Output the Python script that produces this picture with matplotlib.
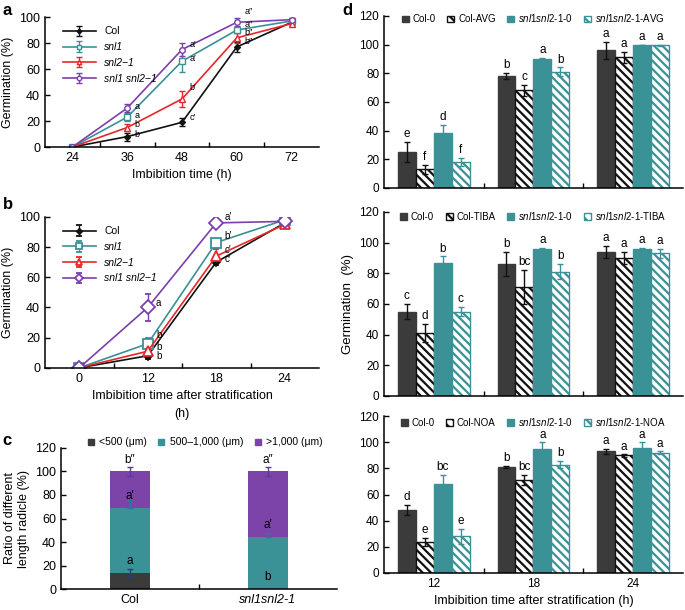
import matplotlib
matplotlib.use("Agg")
import matplotlib.pyplot as plt
import numpy as np
from matplotlib.patches import Patch
from matplotlib.lines import Line2D

plt.rcParams['font.family'] = ['Liberation Sans', 'DejaVu Sans']
plt.rcParams['mathtext.fontset'] = 'custom'
plt.rcParams['mathtext.it'] = 'Liberation Sans:italic'
plt.rcParams['mathtext.rm'] = 'Liberation Sans'
plt.rcParams['hatch.linewidth'] = 1.6

BLACK = '#111111'
TEAL = '#3a9196'
RED = '#e8262a'
PURPLE = '#7b3fae'
DARK = '#3b3b3b'
CPURP = '#7c44a8'

# ---------------- Panel a data ----------------
a_times = ['24', '36', '48', '60', '72']
a_series = ['Col', 'snl1', 'snl2\u22121', 'snl1 snl2\u22121']
a_col = [0, 8, 19, 77, 96]
a_col_err = [0, 3, 3, 4, 1]
a_snl1 = [0, 23, 66, 90, 97]
a_snl1_err = [0, 3, 8, 2, 1]
a_snl2 = [0, 15, 37, 84, 95]
a_snl2_err = [0, 3, 6, 4, 1]
a_dbl = [0, 30, 75, 96, 98]
a_dbl_err = [0, 3, 5, 3, 1]
a_letters = [["b", "c\u2032", "b\u2033"], ["a", "a\u2032", "a\u2033"],
             ["b", "b\u2032", "b\u2033"], ["a", "a\u2032", "a\u2033"]]
a_letter_y = [[10, 23, 81], [24, 68, 94.5], [17, 46, 88], [31, 79, 104]]

# ---------------- Panel b data ----------------
b_times = ['0', '12', '18', '24']
b_col = [0, 8, 70, 96]
b_col_err = [0, 2, 2, 1]
b_snl1 = [0, 16, 83, 98]
b_snl1_err = [0, 4, 2, 1]
b_snl2 = [0, 11, 74, 95]
b_snl2_err = [0, 2, 5, 1]
b_dbl = [0, 40, 96, 97]
b_dbl_err = [0, 9, 1, 1]
b_letters = [["b", "c\u2032"], ["b", "b\u2032"], ["b", "c\u2032"], ["a", "a\u2032"]]
b_letter_y = [[8, 72], [22, 87], [14, 78], [43, 100]]

# ---------------- Panel c data ----------------
c_groups = ['Col', 'snl1snl2-1']
c_lt500 = [14, 0]
c_lt500_err = [3, 0]
c_mid = [55, 44]
c_mid_err = [7, 4]
c_gt1000 = [31, 56]
c_gt1000_err = [4, 4]
c_labels_lt = ["a", "b"]
c_labels_mid = ["a\u2032", "a\u2032"]
c_labels_gt = ["b\u2033", "a\u2033"]

# ---------------- Panel d data ----------------
d_times = ['12', '18', '24']
d_treat = ['AVG', 'TIBA', 'NOA']
d_col0 = [[25, 78, 96], [55, 86, 94], [48, 81, 93]]
d_col0_err = [[7, 2, 6], [5, 8, 4], [4, 1, 2]]
d_colT = [[13, 68, 91], [41, 71, 90], [24, 71, 90]]
d_colT_err = [[3, 4, 4], [6, 11, 4], [3, 4, 1]]
d_snl0 = [[38, 90, 100], [87, 96, 96], [68, 95, 96]]
d_snl0_err = [[6, 0.5, 0], [4, 0.5, 0.5], [7, 5, 4]]
d_snlT = [[18, 81, 99.5], [55, 81, 93], [28, 83, 92]]
d_snlT_err = [[3, 3, 0.5], [3, 5, 3], [6, 3, 1]]
d_letters = [
    [["e", "f", "d", "f"], ["b", "c", "a", "b"], ["a", "a", "a", "a"]],
    [["c", "d", "b", "c"], ["b", "bc", "a", "b"], ["a", "a", "a", "a"]],
    [["d", "e", "bc", "e"], ["b", "bc", "a", "b"], ["a", "a", "a", "a"]],
]

fig = plt.figure(figsize=(6.85, 6.10), dpi=100)

def style_axes(ax, fs=9):
    ax.spines['top'].set_visible(False)
    ax.spines['right'].set_visible(False)
    ax.tick_params(direction='in', labelsize=fs, length=3.5, width=1)
    for s in ['left', 'bottom']:
        ax.spines[s].set_linewidth(1.1)

# ---------------- Panel a ----------------
axa = fig.add_axes([0.0657, 0.759, 0.400, 0.213])
xa = np.arange(len(a_times))
series_a = [(a_col, a_col_err, BLACK, 'D', BLACK, 3.0),
            (a_snl1, a_snl1_err, TEAL, 's', 'white', 4.0),
            (a_snl2, a_snl2_err, RED, '^', 'white', 4.0),
            (a_dbl, a_dbl_err, PURPLE, 'o', 'white', 4.0)]
for i, (vals, errs, c, m, mfc, ms) in enumerate(series_a):
    axa.errorbar(xa, vals, yerr=errs, color=c, marker=m, mfc=mfc, mec=c, ms=ms,
                 lw=1.2, capsize=2.5, elinewidth=1, label=a_series[i])
    for j in range(3):
        axa.text(xa[j + 1] + 0.14, a_letter_y[i][j], a_letters[i][j], fontsize=6.5,
                 va='center', ha='left')
axa.set_xlim(-0.5, len(a_times) - 0.5)
axa.set_ylim(0, 100)
axa.set_yticks(range(0, 101, 20))
axa.set_xticks(xa)
axa.set_xticklabels(a_times)
axa.set_xticks(np.arange(0.5, len(a_times) - 1, 1), minor=True)
style_axes(axa)
axa.tick_params(axis='x', which='major', length=0)
axa.tick_params(axis='x', which='minor', direction='in', length=3.5, width=1)
axa.set_ylabel('Germination (%)', fontsize=9)
axa.set_xlabel('Imbibition time (h)', fontsize=9)
leg = axa.legend(loc='upper left', frameon=False, fontsize=7.5, handlelength=3.2,
                 bbox_to_anchor=(0.03, 1.0), labelspacing=0.55, markerscale=0.8)
for t in leg.get_texts()[1:]:
    t.set_style('italic')

# ---------------- Panel b ----------------
axb = fig.add_axes([0.0657, 0.397, 0.400, 0.2475])
xb = np.arange(len(b_times))
series_b = [(b_col, b_col_err, BLACK, 'D', BLACK, 4.5),
            (b_snl1, b_snl1_err, TEAL, 's', 'white', 7.0),
            (b_snl2, b_snl2_err, RED, '^', 'white', 7.0),
            (b_dbl, b_dbl_err, PURPLE, 'D', 'white', 7.0)]
for i, (vals, errs, c, m, mfc, ms) in enumerate(series_b):
    axb.errorbar(xb, vals, yerr=errs, color=c, marker=m, mfc=mfc, mec=c, ms=ms,
                 mew=1.3, lw=1.2, capsize=2.5, elinewidth=1, label=a_series[i])
    for j in range(2):
        axb.text(xb[j + 1] + 0.12, b_letter_y[i][j], b_letters[i][j], fontsize=7,
                 va='center', ha='left')
axb.set_xlim(-0.5, len(b_times) - 0.5)
axb.set_ylim(0, 100)
axb.set_yticks(range(0, 101, 20))
axb.set_xticks(xb)
axb.set_xticklabels(b_times)
axb.set_xticks(np.arange(0.5, len(b_times) - 1, 1), minor=True)
style_axes(axb)
axb.tick_params(axis='x', which='major', length=0)
axb.tick_params(axis='x', which='minor', direction='in', length=3.5, width=1)
axb.set_ylabel('Germination (%)', fontsize=9)
axb.set_xlabel('Imbibition time after stratification\n(h)', fontsize=9,
               linespacing=1.6)
legb = axb.legend(loc='upper left', frameon=False, fontsize=7.5, handlelength=3.2,
                  bbox_to_anchor=(0.03, 1.0), labelspacing=0.55, markerscale=0.6)
for t in legb.get_texts()[1:]:
    t.set_style('italic')

# ---------------- Panel c ----------------
axc = fig.add_axes([0.089, 0.0344, 0.403, 0.2312])
xc = np.arange(len(c_groups))
w = 0.29
axc.bar(xc, c_lt500, width=w, color=DARK, label='<500 (\u03bcm)')
axc.bar(xc, c_mid, width=w, bottom=c_lt500, color=TEAL, label='500\u20131,000 (\u03bcm)')
bot2 = np.array(c_lt500) + np.array(c_mid)
axc.bar(xc, c_gt1000, width=w, bottom=bot2, color=CPURP, label='>1,000 (\u03bcm)')
top = bot2 + np.array(c_gt1000)
for i in range(len(c_groups)):
    if c_lt500[i] > 0:
        axc.errorbar(xc[i], c_lt500[i], yerr=c_lt500_err[i], color='#2a3d7a',
                     capsize=2.5, elinewidth=1)
    axc.errorbar(xc[i], bot2[i], yerr=[[0], [c_mid_err[i]]], color='#3a6fa0',
                 capsize=2.5, elinewidth=1)
    axc.errorbar(xc[i], top[i], yerr=c_gt1000_err[i], color='#5a3a9a',
                 capsize=2.5, elinewidth=1)
    if c_lt500[i] > 0:
        axc.text(xc[i], c_lt500[i] + 5, c_labels_lt[i], ha='center', va='bottom', fontsize=8.5)
    else:
        axc.text(xc[i], 10, c_labels_lt[i], ha='center', va='center', fontsize=8.5)
    axc.text(xc[i], bot2[i] + 5, c_labels_mid[i], ha='center', va='bottom', fontsize=8.5)
    axc.text(xc[i], top[i] + 4.5, c_labels_gt[i], ha='center', va='bottom', fontsize=8.5)
axc.set_xlim(-0.5, len(c_groups) - 0.5)
axc.set_ylim(0, 120)
axc.set_yticks(range(0, 121, 20))
axc.set_xticks(xc)
axc.set_xticklabels(c_groups)
axc.get_xticklabels()[1].set_style('italic')
axc.set_xticks([0.5], minor=True)
style_axes(axc)
axc.tick_params(axis='x', which='major', length=0)
axc.tick_params(axis='x', which='minor', direction='in', length=3.5, width=1)
axc.set_ylabel('Ratio of different\nlength radicle (%)', fontsize=9)
hc = [Line2D([], [], marker='s', ls='', color=c, ms=4.5) for c in [DARK, TEAL, CPURP]]
axc.legend(hc, ['<500 (\u03bcm)', '500\u20131,000 (\u03bcm)', '>1,000 (\u03bcm)'],
           loc='center', bbox_to_anchor=(0.52, 1.04), ncol=3, frameon=False,
           fontsize=7.5, handlelength=0.8, handletextpad=0.4, columnspacing=1.0)

# ---------------- Panel d ----------------
d_pos = [[0.5606, 0.692, 0.436, 0.282],
         [0.5606, 0.351, 0.436, 0.3016],
         [0.5606, 0.0607, 0.436, 0.257]]
d_leg_y = [0.985, 0.978, 0.962]
bw = 0.18
xd = np.arange(len(d_times))
for k in range(3):
    ax = fig.add_axes(d_pos[k])
    offs = [-1.5 * bw, -0.5 * bw, 0.5 * bw, 1.5 * bw]
    specs = [
        (d_col0[k], d_col0_err[k], dict(color=DARK, edgecolor=DARK), BLACK),
        (d_colT[k], d_colT_err[k], dict(color='white', edgecolor=BLACK, hatch='\\\\\\\\'), BLACK),
        (d_snl0[k], d_snl0_err[k], dict(color=TEAL, edgecolor=TEAL), TEAL),
        (d_snlT[k], d_snlT_err[k], dict(color='white', edgecolor=TEAL, hatch='\\\\\\\\'), TEAL),
    ]
    for s, (vals, errs, kw, ecol) in enumerate(specs):
        ax.bar(xd + offs[s], vals, width=bw, lw=1.0, **kw)
        ax.errorbar(xd + offs[s], vals, yerr=errs, fmt='none', ecolor=ecol,
                    capsize=2.5, elinewidth=1)
        for g in range(len(d_times)):
            ax.text(xd[g] + offs[s], vals[g] + errs[g] + 1.2, d_letters[k][g][s],
                    ha='center', va='bottom', fontsize=8.5)
    ax.set_xlim(-0.5, len(d_times) - 0.5)
    ax.set_ylim(0, 120)
    ax.set_yticks(range(0, 121, 20))
    ax.set_xticks(xd)
    ax.set_xticks([0.5, 1.5], minor=True)
    style_axes(ax, fs=8.5)
    ax.tick_params(axis='x', which='major', length=0)
    ax.tick_params(axis='x', which='minor', direction='in', length=3.5, width=1)
    if k < 2:
        ax.set_xticklabels([])
    else:
        ax.set_xticklabels(d_times)
        ax.set_xlabel('Imbibition time after stratification (h)', fontsize=9)
    if k == 1:
        ax.set_ylabel('Germination  (%)', fontsize=9.5)
    t = d_treat[k]
    handles = [Patch(facecolor=DARK, edgecolor=DARK),
               Patch(facecolor='white', edgecolor=BLACK, hatch='\\\\\\'),
               Patch(facecolor=TEAL, edgecolor=TEAL),
               Patch(facecolor='white', edgecolor=TEAL, hatch='\\\\\\')]
    labels = ['Col-0', 'Col-' + t, r'$\mathit{snl1snl2}$-$\mathit{1}$-0',
              r'$\mathit{snl1snl2}$-$\mathit{1}$-' + t]
    ax.legend(handles, labels, loc='center', bbox_to_anchor=(0.5, d_leg_y[k]),
              ncol=4, frameon=False, fontsize=7, handlelength=0.7,
              handleheight=0.7, handletextpad=0.4, columnspacing=1.2,
              borderpad=0.1)

# panel letters
for lab, (x, y) in zip('abcd', [(0.004, 0.982), (0.004, 0.664), (0.004, 0.278), (0.500, 0.982)]):
    fig.text(x, y, lab, fontsize=12, fontweight='bold', va='center', ha='left')

fig.savefig('out.png', dpi=100)
